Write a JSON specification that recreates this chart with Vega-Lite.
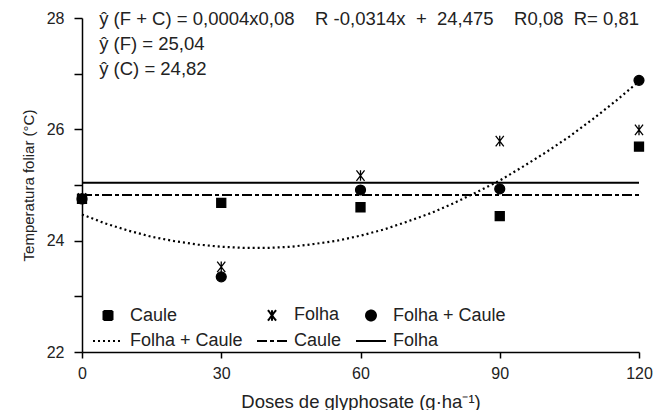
{
  "$schema": "https://vega.github.io/schema/vega-lite/v6.json",
  "width": 557,
  "height": 334,
  "autosize": "none",
  "padding": {"left": 82, "top": 18, "right": 16, "bottom": 58},
  "config": {
    "view": {"stroke": null},
    "font": "Liberation Sans",
    "axis": {
      "grid": false,
      "domainColor": "black",
      "tickColor": "black",
      "domainWidth": 1.5,
      "tickWidth": 1.5,
      "labelColor": "#222",
      "titleColor": "#222",
      "labelFont": "Liberation Sans",
      "titleFont": "Liberation Sans",
      "labelFontSize": 16,
      "labelFlush": false,
      "titleFontWeight": "normal"
    }
  },
  "datasets": {
    "pontos": [
      {"dose": 0, "serie": "Caule", "temp": 24.75},
      {"dose": 0, "serie": "Folha", "temp": 24.76},
      {"dose": 0, "serie": "Folha + Caule", "temp": 24.75},
      {"dose": 30, "serie": "Caule", "temp": 24.68},
      {"dose": 30, "serie": "Folha", "temp": 23.53},
      {"dose": 30, "serie": "Folha + Caule", "temp": 23.35},
      {"dose": 60, "serie": "Caule", "temp": 24.6},
      {"dose": 60, "serie": "Folha", "temp": 25.17},
      {"dose": 60, "serie": "Folha + Caule", "temp": 24.91},
      {"dose": 90, "serie": "Caule", "temp": 24.44},
      {"dose": 90, "serie": "Folha", "temp": 25.79},
      {"dose": 90, "serie": "Folha + Caule", "temp": 24.93},
      {"dose": 120, "serie": "Caule", "temp": 25.69},
      {"dose": 120, "serie": "Folha", "temp": 25.99},
      {"dose": 120, "serie": "Folha + Caule", "temp": 26.88}
    ],
    "linhas": [
      {"dose": 0, "modelo": "Folha + Caule ", "temp": 24.47},
      {"dose": 5, "modelo": "Folha + Caule ", "temp": 24.31},
      {"dose": 10, "modelo": "Folha + Caule ", "temp": 24.18},
      {"dose": 15, "modelo": "Folha + Caule ", "temp": 24.07},
      {"dose": 20, "modelo": "Folha + Caule ", "temp": 23.99},
      {"dose": 25, "modelo": "Folha + Caule ", "temp": 23.93},
      {"dose": 30, "modelo": "Folha + Caule ", "temp": 23.89},
      {"dose": 35, "modelo": "Folha + Caule ", "temp": 23.87},
      {"dose": 40, "modelo": "Folha + Caule ", "temp": 23.87},
      {"dose": 45, "modelo": "Folha + Caule ", "temp": 23.89},
      {"dose": 50, "modelo": "Folha + Caule ", "temp": 23.94},
      {"dose": 55, "modelo": "Folha + Caule ", "temp": 24.0},
      {"dose": 60, "modelo": "Folha + Caule ", "temp": 24.09},
      {"dose": 65, "modelo": "Folha + Caule ", "temp": 24.2},
      {"dose": 70, "modelo": "Folha + Caule ", "temp": 24.34},
      {"dose": 75, "modelo": "Folha + Caule ", "temp": 24.49},
      {"dose": 80, "modelo": "Folha + Caule ", "temp": 24.67},
      {"dose": 85, "modelo": "Folha + Caule ", "temp": 24.87},
      {"dose": 90, "modelo": "Folha + Caule ", "temp": 25.08},
      {"dose": 95, "modelo": "Folha + Caule ", "temp": 25.33},
      {"dose": 100, "modelo": "Folha + Caule ", "temp": 25.59},
      {"dose": 105, "modelo": "Folha + Caule ", "temp": 25.87},
      {"dose": 110, "modelo": "Folha + Caule ", "temp": 26.18},
      {"dose": 115, "modelo": "Folha + Caule ", "temp": 26.51},
      {"dose": 120, "modelo": "Folha + Caule ", "temp": 26.86},
      {"dose": 0, "modelo": "Caule ", "temp": 24.82},
      {"dose": 120, "modelo": "Caule ", "temp": 24.82},
      {"dose": 0, "modelo": "Folha ", "temp": 25.04},
      {"dose": 120, "modelo": "Folha ", "temp": 25.04}
    ],
    "equacoes": [
      {"dose": 3.7, "temp": 27.98, "rotulo": "ŷ (F + C) = 0,0004x0,08\u00a0\u00a0\u00a0\u00a0R -0,0314x\u00a0\u00a0+\u00a0\u00a024,475\u00a0\u00a0\u00a0\u00a0R0,08\u00a0\u00a0R= 0,81"},
      {"dose": 3.7, "temp": 27.54, "rotulo": "ŷ (F) = 25,04"},
      {"dose": 3.7, "temp": 27.09, "rotulo": "ŷ (C) = 24,82"}
    ]
  },
  "layer": [
    {
      "data": {"name": "linhas"},
      "mark": {"type": "line", "color": "black", "strokeWidth": 2.2},
      "encoding": {
        "x": {
          "field": "dose", "type": "quantitative",
          "scale": {"domain": [0, 120], "nice": false},
          "title": "Doses de glyphosate (g·ha⁻¹)",
          "axis": {"values": [0, 30, 60, 90, 120], "tickSize": 6, "labelPadding": 7, "titleFontSize": 18.5, "titlePadding": 11}
        },
        "y": {
          "field": "temp", "type": "quantitative",
          "scale": {"domain": [22, 28], "nice": false, "zero": false},
          "title": "Temperatura foliar (°C)",
          "axis": {"values": [22, 23, 24, 25, 26, 27, 28], "format": "d", "labelExpr": "datum.value % 2 == 0 ? datum.label : ''", "tickSize": 8, "labelPadding": 10, "titleFontSize": 15, "titlePadding": 10}
        },
        "strokeDash": {
          "field": "modelo", "type": "nominal",
          "scale": {
            "domain": ["Caule", "Folha", "Folha + Caule", "Folha + Caule ", "Caule ", "Folha "],
            "range": [[1, 0], [1, 0], [1, 0], [2, 3], [10, 3, 4, 3], [1, 0]]
          },
          "legend": {
            "title": null, "orient": "none", "legendX": 10, "legendY": 281, "columns": 3, "direction": "horizontal",
            "columnPadding": 10, "rowPadding": -8, "symbolSize": 900, "labelFontSize": 18,
            "labelOffset": 6, "labelFont": "Liberation Sans", "labelColor": "#222",
            "symbolStrokeColor": "black", "symbolFillColor": "black", "symbolStrokeWidth": 2, "padding": 0,
            "encode": {"symbols": {"update": {"stroke": {"value": "black"}, "strokeWidth": {"value": 2}, "fill": {"value": "black"}, "opacity": {"value": 1}}}}
          }
        }
      }
    },
    {
      "data": {"name": "pontos"},
      "mark": {"type": "point", "filled": true, "size": 900, "color": "black", "stroke": "black", "strokeWidth": 1.3, "opacity": 1},
      "encoding": {
        "x": {"field": "dose", "type": "quantitative"},
        "y": {"field": "temp", "type": "quantitative"},
        "shape": {
          "field": "serie", "type": "nominal",
          "scale": {
            "domain": ["Caule", "Folha", "Folha + Caule", "Folha + Caule ", "Caule ", "Folha "],
            "range": [
              "M-0.3,-0.3H0.3V0.3H-0.3Z",
              "M-0.27,-0.35L0.27,0.35M-0.27,0.35L0.27,-0.35M0,-0.35V0.35",
              "M-0.33,0A0.33,0.33,0,1,1,0.33,0A0.33,0.33,0,1,1,-0.33,0Z",
              "M-1,0H1",
              "M-1,0H1",
              "M-1,0H1"
            ]
          },
          "legend": {
            "title": null, "orient": "none", "legendX": 10, "legendY": 281, "columns": 3, "direction": "horizontal",
            "columnPadding": 10, "rowPadding": -8, "symbolSize": 900, "labelFontSize": 18,
            "labelOffset": 6, "labelFont": "Liberation Sans", "labelColor": "#222",
            "symbolStrokeColor": "black", "symbolFillColor": "black", "symbolStrokeWidth": 2, "padding": 0,
            "encode": {"symbols": {"update": {"stroke": {"value": "black"}, "strokeWidth": {"value": 2}, "fill": {"value": "black"}, "opacity": {"value": 1}}}}
          }
        }
      }
    },
    {
      "data": {"name": "equacoes"},
      "mark": {"type": "text", "align": "left", "baseline": "middle", "fontSize": 18.5, "font": "Liberation Sans", "color": "#222"},
      "encoding": {
        "x": {"field": "dose", "type": "quantitative"},
        "y": {"field": "temp", "type": "quantitative"},
        "text": {"field": "rotulo"}
      }
    }
  ]
}
